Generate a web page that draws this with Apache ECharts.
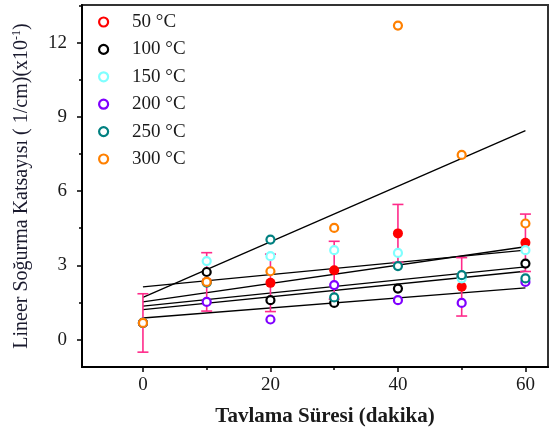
<!DOCTYPE html>
<html>
<head>
<meta charset="utf-8">
<script src="https://cdn.jsdelivr.net/npm/echarts@6/dist/echarts.min.js"></script>
<style>
  html, body { margin: 0; padding: 0; background: #fff; }
  #chart { width: 551px; height: 432px; }
</style>
</head>
<body>
<div id="chart"></div>
<script>
// tavlama suresi (dakika)
var times = [0, 10, 20, 30, 40, 50, 60];
var names = ['50 °C', '100 °C', '150 °C', '200 °C', '250 °C', '300 °C'];
var colors = ['#ff0000', '#000000', '#80ffff', '#8000ff', '#008080', '#ff8000'];

// olculen degerler (x10^-1)
var s50  = [0.67, 2.33, 2.29, 2.80, 4.29, 2.13, 3.91];
var s50Err = [1.18, 1.18, 1.16, 1.17, 1.17, 1.18, 1.16];
var s100 = [0.67, 2.73, 1.59, 1.48, 2.06, 2.55, 3.07];
var s150 = [0.67, 3.17, 3.37, 3.61, 3.50, 2.47, 3.61];
var s200 = [0.67, 1.52, 0.81, 2.20, 1.59, 1.48, 2.33];
var s250 = [0.67, 2.30, 4.04, 1.70, 2.97, 2.60, 2.47];
var s300 = [0.67, 2.33, 2.76, 4.51, 12.69, 7.46, 4.69];

// lineer fit: t=0 ve t=60 degerleri
var fitStart = [1.52, 1.21, 2.13, 0.87, 1.35, 1.70];
var fitEnd   = [3.75, 2.76, 3.61, 2.09, 2.94, 8.44];

var xMajor = [0, 20, 40, 60];
var xMinor = [10, 30, 50];
var yMajor = [0, 3, 6, 9, 12];
var yMinor = [1.5, 4.5, 7.5, 10.5, 13.5];

var allSeries = [s50, s100, s150, s200, s250, s300];
var serif = 'Liberation Serif';

var chart = echarts.init(document.getElementById('chart'));

var series = [];
// fit cizgileri
fitStart.forEach(function (v, i) {
    series.push({
        type: 'line',
        silent: true,
        symbol: 'none',
        data: [[times[0], v], [times[times.length - 1], fitEnd[i]]],
        lineStyle: { color: '#000', width: 1.3 },
        z: 2
    });
});
// hata cubuklari (50 °C)
series.push({
    type: 'custom',
    data: times.map(function (t, i) { return [t, s50[i], s50Err[i]]; }),
    renderItem: function (params, api) {
        var x = api.value(0), y = api.value(1), e = api.value(2);
        var top = api.coord([x, y + e]);
        var bot = api.coord([x, y - e]);
        var hw = 5.5;
        var st = { stroke: '#ff2a8a', lineWidth: 1.6 };
        return {
            type: 'group',
            children: [
                { type: 'line', shape: { x1: top[0], y1: top[1], x2: bot[0], y2: bot[1] }, style: st },
                { type: 'line', shape: { x1: top[0] - hw, y1: top[1], x2: top[0] + hw, y2: top[1] }, style: st },
                { type: 'line', shape: { x1: bot[0] - hw, y1: bot[1], x2: bot[0] + hw, y2: bot[1] }, style: st }
            ]
        };
    },
    z: 3
});
// noktalar
allSeries.forEach(function (arr, i) {
    var filled = i === 0;
    series.push({
        name: names[i],
        type: 'scatter',
        symbol: 'circle',
        symbolSize: filled ? 10 : 8,
        data: times.map(function (t, j) { return [t, arr[j]]; }),
        itemStyle: filled ? { color: colors[i], opacity: 1 } : { color: '#fff', borderColor: colors[i], borderWidth: 2.2, opacity: 1 },
        z: 4 + i
    });
});

chart.setOption({
    animation: false,
    grid: { left: 82, right: 3, top: 5, bottom: 65, show: true, borderColor: '#333', borderWidth: 2 },
    legend: {
        orient: 'vertical',
        left: 93,
        top: 7,
        itemWidth: 9,
        itemHeight: 9,
        itemGap: 7.4,
        textStyle: { fontFamily: serif, fontSize: 19, color: '#1a1a1a', lineHeight: 20, padding: [0, 0, 0, 19] },
        data: names.map(function (n, i) {
            return { name: n, icon: 'circle', itemStyle: { color: '#fff', borderColor: colors[i], borderWidth: 2.2 } };
        })
    },
    xAxis: [{
        type: 'value',
        min: -9.56,
        max: 63.54,
        name: 'Tavlama Süresi (dakika)',
        nameLocation: 'middle',
        nameGap: 39,
        nameTextStyle: { fontFamily: serif, fontSize: 21, fontWeight: 'bold', color: '#1a1a1a', padding: [0, 0, 0, 20] },
        axisLine: { onZero: false, lineStyle: { color: '#000', width: 2 } },
        axisTick: { length: 5, lineStyle: { color: '#000', width: 1.5 }, customValues: xMajor },
        axisLabel: { customValues: xMajor, margin: 9, fontFamily: serif, fontSize: 19, color: '#1a1a1a' },
        splitLine: { show: false }
    }, {
        type: 'value',
        min: -9.56,
        max: 63.54,
        position: 'bottom',
        axisLine: { show: false, onZero: false },
        axisTick: { length: 3, lineStyle: { color: '#000', width: 1.5 }, customValues: xMinor },
        axisLabel: { show: false },
        splitLine: { show: false }
    }],
    yAxis: [{
        type: 'value',
        min: -1.11,
        max: 13.52,
        name: 'Lineer Soğurma Katsayısı ( 1/cm)(x10{sup|-1})',
        nameLocation: 'middle',
        nameGap: 50,
        nameTextStyle: {
            fontFamily: serif, fontSize: 20, color: '#1a1a2e',
            rich: { sup: { fontFamily: serif, fontSize: 12, color: '#1a1a2e', verticalAlign: 'top', padding: [0, 0, 9, 0] } }
        },
        axisLine: { onZero: false, lineStyle: { color: '#000', width: 2 } },
        axisTick: { length: 5, lineStyle: { color: '#000', width: 1.5 }, customValues: yMajor },
        axisLabel: { customValues: yMajor, margin: 15, fontFamily: serif, fontSize: 19, color: '#1a1a1a' },
        splitLine: { show: false }
    }, {
        type: 'value',
        min: -1.11,
        max: 13.52,
        position: 'left',
        axisLine: { show: false, onZero: false },
        axisTick: { length: 3, lineStyle: { color: '#000', width: 1.5 }, customValues: yMinor },
        axisLabel: { show: false },
        splitLine: { show: false }
    }],
    series: series
});
</script>
</body>
</html>
